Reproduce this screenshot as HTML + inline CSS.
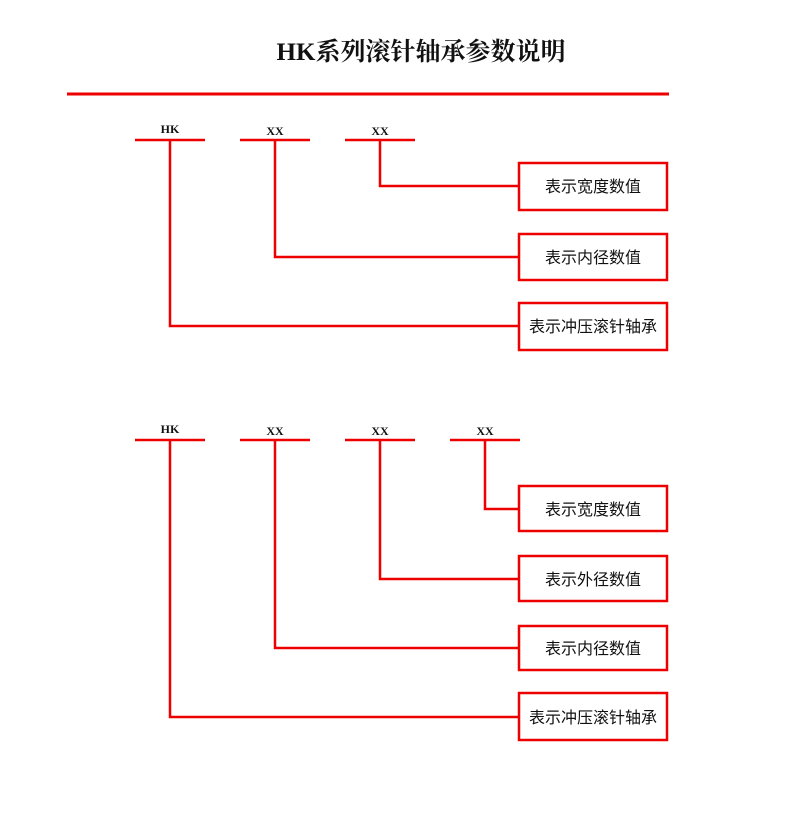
<!DOCTYPE html>
<html><head><meta charset="utf-8"><style>html,body{margin:0;padding:0;background:#fff}svg{display:block}</style></head><body>
<svg width="800" height="840" xmlns="http://www.w3.org/2000/svg" font-family="'Liberation Sans','Noto Sans CJK SC',sans-serif">
<rect width="800" height="840" fill="#fff"/>
<text x="421" y="60" text-anchor="middle" font-size="25" font-weight="bold" fill="#111" font-family="'Liberation Serif','Noto Serif CJK SC',serif">HK系列滚针轴承参数说明</text>
<line x1="67" y1="94" x2="669" y2="94" stroke="#e00" stroke-width="3"/>
<g stroke="#e00" stroke-width="2.5" fill="none">
<line x1="135" y1="140" x2="205" y2="140"/><line x1="240" y1="140" x2="310" y2="140"/><line x1="345" y1="140" x2="415" y2="140"/>
<polyline points="380,140 380,186 519,186"/><polyline points="275,140 275,257 519,257"/><polyline points="170,140 170,326 519,326"/>
<rect x="519" y="163" width="148" height="47"/><rect x="519" y="234" width="148" height="46"/><rect x="519" y="303" width="148" height="47"/>
<line x1="135" y1="440" x2="205" y2="440"/><line x1="240" y1="440" x2="310" y2="440"/><line x1="345" y1="440" x2="415" y2="440"/><line x1="450" y1="440" x2="520" y2="440"/>
<polyline points="485,440 485,509 519,509"/><polyline points="380,440 380,579 519,579"/><polyline points="275,440 275,648 519,648"/><polyline points="170,440 170,717 519,717"/>
<rect x="519" y="486" width="148" height="45"/><rect x="519" y="556" width="148" height="45"/><rect x="519" y="626" width="148" height="44"/><rect x="519" y="693" width="148" height="47"/>
</g>
<g font-family="'Liberation Serif',serif" font-weight="bold" font-size="12" fill="#111" text-anchor="middle">
<text x="170" y="133">HK</text><text x="275" y="135">XX</text><text x="380" y="135">XX</text>
<text x="170" y="433">HK</text><text x="275" y="435">XX</text><text x="380" y="435">XX</text><text x="485" y="435">XX</text>
</g>
<g font-size="16" fill="#111" text-anchor="middle">
<text x="593" y="192">表示宽度数值</text><text x="593" y="263">表示内径数值</text><text x="593" y="332">表示冲压滚针轴承</text>
<text x="593" y="515">表示宽度数值</text><text x="593" y="585">表示外径数值</text><text x="593" y="654">表示内径数值</text><text x="593" y="723">表示冲压滚针轴承</text>
</g>
</svg>
</body></html>
